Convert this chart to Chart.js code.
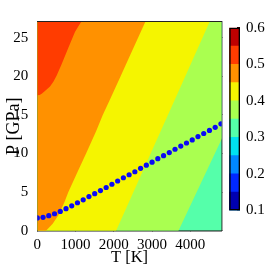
<!DOCTYPE html>
<html><head><meta charset="utf-8">
<script src="https://cdn.jsdelivr.net/npm/chart.js@4.4.1/dist/chart.umd.min.js"></script>
<style>
html,body{margin:0;padding:0;background:#fff;width:266px;height:266px;overflow:hidden}
canvas{position:absolute}
#main{left:0;top:0}
#cbar{left:226px;top:0}
</style></head><body>
<canvas id="main" width="266" height="266"></canvas>
<canvas id="cbar" width="40" height="266"></canvas>
<script>
// ---- axis ranges and tick labels ----
const tRange = [0, 4820];
const pRange = [0, 27.05];
const tTicks = [0, 1000, 2000, 3000, 4000];
const pTicks = [0, 5, 10, 15, 20, 25];

// ---- dotted curve ----
const curveT = [0,150,300,450,600,750,900,1050,1200,1350,1500,1650,1800,1950,2100,2250,2400,2550,2700,2850,3000,3150,3300,3450,3600,3750,3900,4050,4200,4350,4500,4650,4800];
const curveP = [1.66,1.74,1.95,2.2,2.5,2.86,3.22,3.62,4.0,4.42,4.8,5.2,5.6,6.02,6.44,6.86,7.25,7.64,8.09,8.49,8.88,9.33,9.72,10.13,10.56,10.97,11.37,11.76,12.2,12.6,13.0,13.4,13.85];

// ---- contour boundaries (T [K], P [GPa]) ----
const c050T = [0, 60, 115, 200, 332, 420, 507, 638, 812, 987, 1150, 1300];
const c050P = [17.55, 17.58, 17.75, 18.1, 18.7, 19.3, 20.1, 21.6, 23.7, 25.8, 27.1, 29];
const c045T = [0, 228, 402, 560, 708, 812, 1057, 1275, 1537, 1711, 1900, 2175, 2450, 2822, 3000];
const c045P = [-1.5, 0, 0.89, 2.08, 3.68, 5, 7.67, 10, 12.88, 15, 17, 20, 23, 27.06, 29];
const c040T = [0, 2060, 2963, 3866, 4503, 4900];
const c040P = [-22.8, 0, 10, 20, 27.06, 31.45];
const c035T = [0, 3690, 4155, 4820, 5000];
const c035P = [-38.8, 0, 4.9, 11.9, 13.8];

// ---- colour levels ----
const levels = [0.1,0.15,0.2,0.25,0.3,0.35,0.4,0.45,0.5,0.55,0.6];
const levelColors = ['#0000b0','#0028ff','#0088ff','#00e2f0','#55ffaa','#aaff50','#f5f500','#ff9100','#ff3c00','#be0000'];
const cbTicks = [0.1,0.2,0.3,0.4,0.5,0.6];

const pts = (T,P) => T.map((t,i)=>({x:t,y:P[i]}));
const tickFont = {family:'Liberation Serif', size:15};

function region(T,P,color,fill,order){
  return {data:pts(T,P), showLine:true, fill:fill, backgroundColor:color, borderColor:color,
          borderWidth:0, pointRadius:0, order:order, clip:0};
}
const setTicks = arr => (s => { s.ticks = arr.map(v=>({value:v})); });

new Chart(document.getElementById('main'), {
  type:'scatter',
  data:{datasets:[
    {data:pts(curveT,curveP), pointRadius:2.6, pointBackgroundColor:'#0a0af5', pointBorderWidth:0, showLine:false, order:0},
    region(c050T,c050P,levelColors[8],'end',1),
    region(c045T,c045P,levelColors[7],'end',2),
    region(c040T,c040P,levelColors[6],'end',3),
    region(c035T,c035P,levelColors[5],'end',4),
    region(c040T,c040P,levelColors[4],'start',5)
  ]},
  options:{
    responsive:false, animation:false,
    layout:{padding:{top:5,right:44.3,left:0,bottom:0}},
    plugins:{legend:{display:false}, tooltip:{enabled:false}},
    scales:{
      x:{type:'linear', position:'bottom', min:tRange[0], max:tRange[1],
         afterBuildTicks:setTicks(tTicks),
         ticks:{color:'#000', font:tickFont, padding:9.3, maxRotation:0, autoSkip:false, callback:v=>String(v)},
         grid:{drawOnChartArea:false, tickLength:-4, color:'#333', lineWidth:1},
         border:{color:'#222', width:1.4},
         title:{display:true, text:'T [K]', font:{family:'Liberation Serif', size:16.5}, color:'#000', padding:{top:0,bottom:-2}},
         afterFit(s){s.height=35.3;}},
      x2:{type:'linear', position:'top', min:tRange[0], max:tRange[1],
         afterBuildTicks:setTicks(tTicks),
         ticks:{display:false},
         grid:{drawOnChartArea:false, tickLength:-4, color:'#333', lineWidth:1},
         border:{color:'#222', width:1.4},
         afterFit(s){s.height=0;}},
      y:{type:'linear', position:'left', min:pRange[0], max:pRange[1],
         afterBuildTicks:setTicks(pTicks),
         ticks:{color:'#000', font:tickFont, padding:13, callback:v=>String(v)},
         grid:{drawOnChartArea:false, tickLength:-4, color:'#333', lineWidth:1},
         border:{color:'#222', width:1.4},
         title:{display:true, text:'P [GPa]', font:{family:'Liberation Serif', size:18}, color:'#000', padding:{top:3,bottom:0}},
         afterFit(s){s.width=37.3;}},
      y2:{type:'linear', position:'right', min:pRange[0], max:pRange[1],
         afterBuildTicks:setTicks(pTicks),
         ticks:{display:false},
         grid:{drawOnChartArea:false, tickLength:-4, color:'#333', lineWidth:1},
         border:{color:'#222', width:1.4},
         afterFit(s){s.width=0;}}
    }
  }
});

const bandSets = levelColors.map((c,i)=>({
  data:[[levels[0], levels[i+1]]], backgroundColor:c, borderWidth:0,
  grouped:false, barPercentage:1, categoryPercentage:1, order:i+1
}));
new Chart(document.getElementById('cbar'), {
  type:'bar',
  data:{labels:[''], datasets:[
    {data:[[levels[0], levels[levels.length-1]]], backgroundColor:'rgba(0,0,0,0)', borderColor:'#000', borderWidth:1, borderSkipped:false,
     grouped:false, barPercentage:1, categoryPercentage:1, order:0},
    ...bandSets
  ]},
  options:{
    responsive:false, animation:false,
    layout:{padding:{top:27.7,bottom:55.7,left:3.3,right:0}},
    plugins:{legend:{display:false}, tooltip:{enabled:false}},
    scales:{
      x:{display:false},
      y:{position:'right', min:levels[0], max:levels[levels.length-1],
         afterBuildTicks:setTicks(cbTicks),
         ticks:{color:'#000', font:tickFont, padding:9, callback:v=>v.toFixed(1)},
         grid:{drawOnChartArea:false, tickLength:-3, color:'#000', lineWidth:1},
         border:{display:false},
         afterFit(s){s.width=26;}}
    }
  }
});
</script>
</body></html>
